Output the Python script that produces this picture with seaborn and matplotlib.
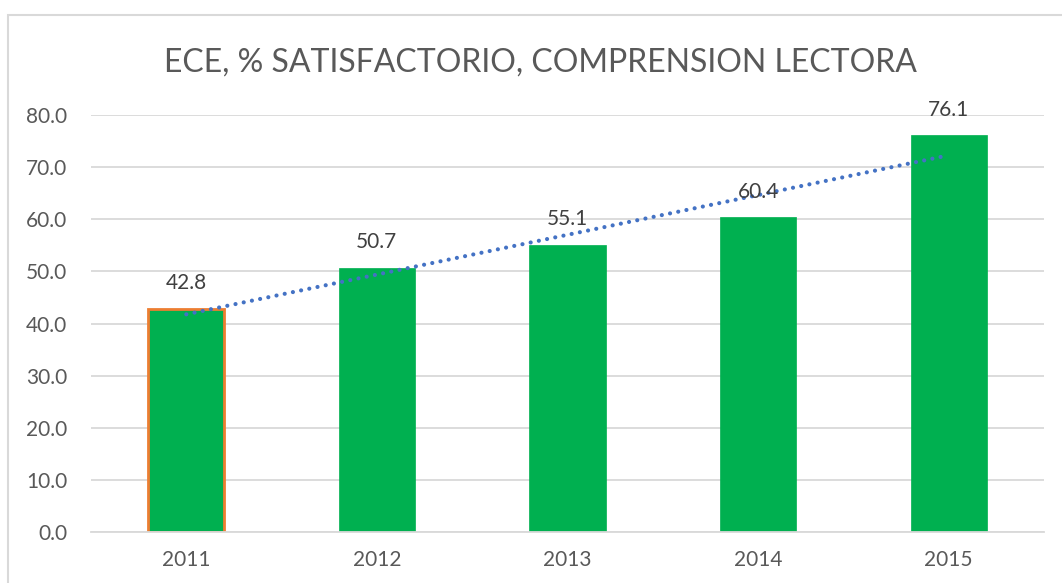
import matplotlib
matplotlib.use("Agg")
import matplotlib.pyplot as plt
from matplotlib.patches import Rectangle
import seaborn as sns
import numpy as np
import pandas as pd

# datos
anios = ["2011", "2012", "2013", "2014", "2015"]
satisfactorio = [42.8, 50.7, 55.1, 60.4, 76.1]
titulo = "ECE, % SATISFACTORIO, COMPRENSION LECTORA"

verde = "#00B050"
naranja = "#ED7D31"
azul = "#4472C4"
gris_txt = "#595959"
gris_grid = "#D9D9D9"

sns.set_theme(style="white")
plt.rcParams['font.family'] = ['Lato', 'DejaVu Sans']

df = pd.DataFrame({"anio": anios, "valor": satisfactorio})

fig = plt.figure(figsize=(10.62, 5.83), dpi=100)
ax = fig.add_axes([0.0857, 0.0875, 0.8973, 0.7152])

sns.barplot(data=df, x="anio", y="valor", color=verde, width=0.4,
            saturation=1, ax=ax, zorder=2)
for p in ax.patches:
    p.set_edgecolor(verde)
    p.set_linewidth(0.5)
ax.patches[0].set_edgecolor(naranja)
ax.patches[0].set_linewidth(2)

# linea de tendencia lineal (puntos redondos)
xs = np.arange(len(satisfactorio))
m, b = np.polyfit(xs, satisfactorio, 1)
ax.plot(xs, m * xs + b, linestyle=(0, (0.01, 2.0)), color=azul, linewidth=3,
        dash_capstyle="round", zorder=3)

# etiquetas de datos
for i, v in enumerate(satisfactorio):
    ax.text(i, v + 3.0, f"{v:.1f}", ha="center", va="bottom",
            fontsize=15, color="#404040", zorder=4)

ax.set_ylim(0, 80)
ax.set_xlim(-0.5, len(anios) - 0.5)
ax.set_yticks(np.arange(0, 81, 10))
ax.set_yticklabels([f"{t:.1f}" for t in np.arange(0, 81, 10)])
ax.yaxis.grid(True, color=gris_grid, linewidth=1.3, zorder=0)
ax.set_axisbelow(True)
ax.tick_params(axis="both", length=0, labelsize=15, labelcolor=gris_txt)
ax.tick_params(axis="y", pad=17)
ax.tick_params(axis="x", pad=13)
ax.set_xlabel("")
ax.set_ylabel("")
for s in ["top", "right", "left"]:
    ax.spines[s].set_visible(False)
ax.spines["bottom"].set_color(gris_grid)
ax.spines["bottom"].set_linewidth(1.3)

fig.text(0.509, 0.893, titulo, ha="center", va="center", fontsize=23,
         color=gris_txt)

# marco del area del grafico
fig.patches.append(Rectangle((8 / 1062, -0.05), 1.2, 1 - 15 / 583 + 0.05,
                             transform=fig.transFigure, fill=False,
                             edgecolor=gris_grid, linewidth=1.5, zorder=0))

fig.savefig("out.png", dpi=100)
